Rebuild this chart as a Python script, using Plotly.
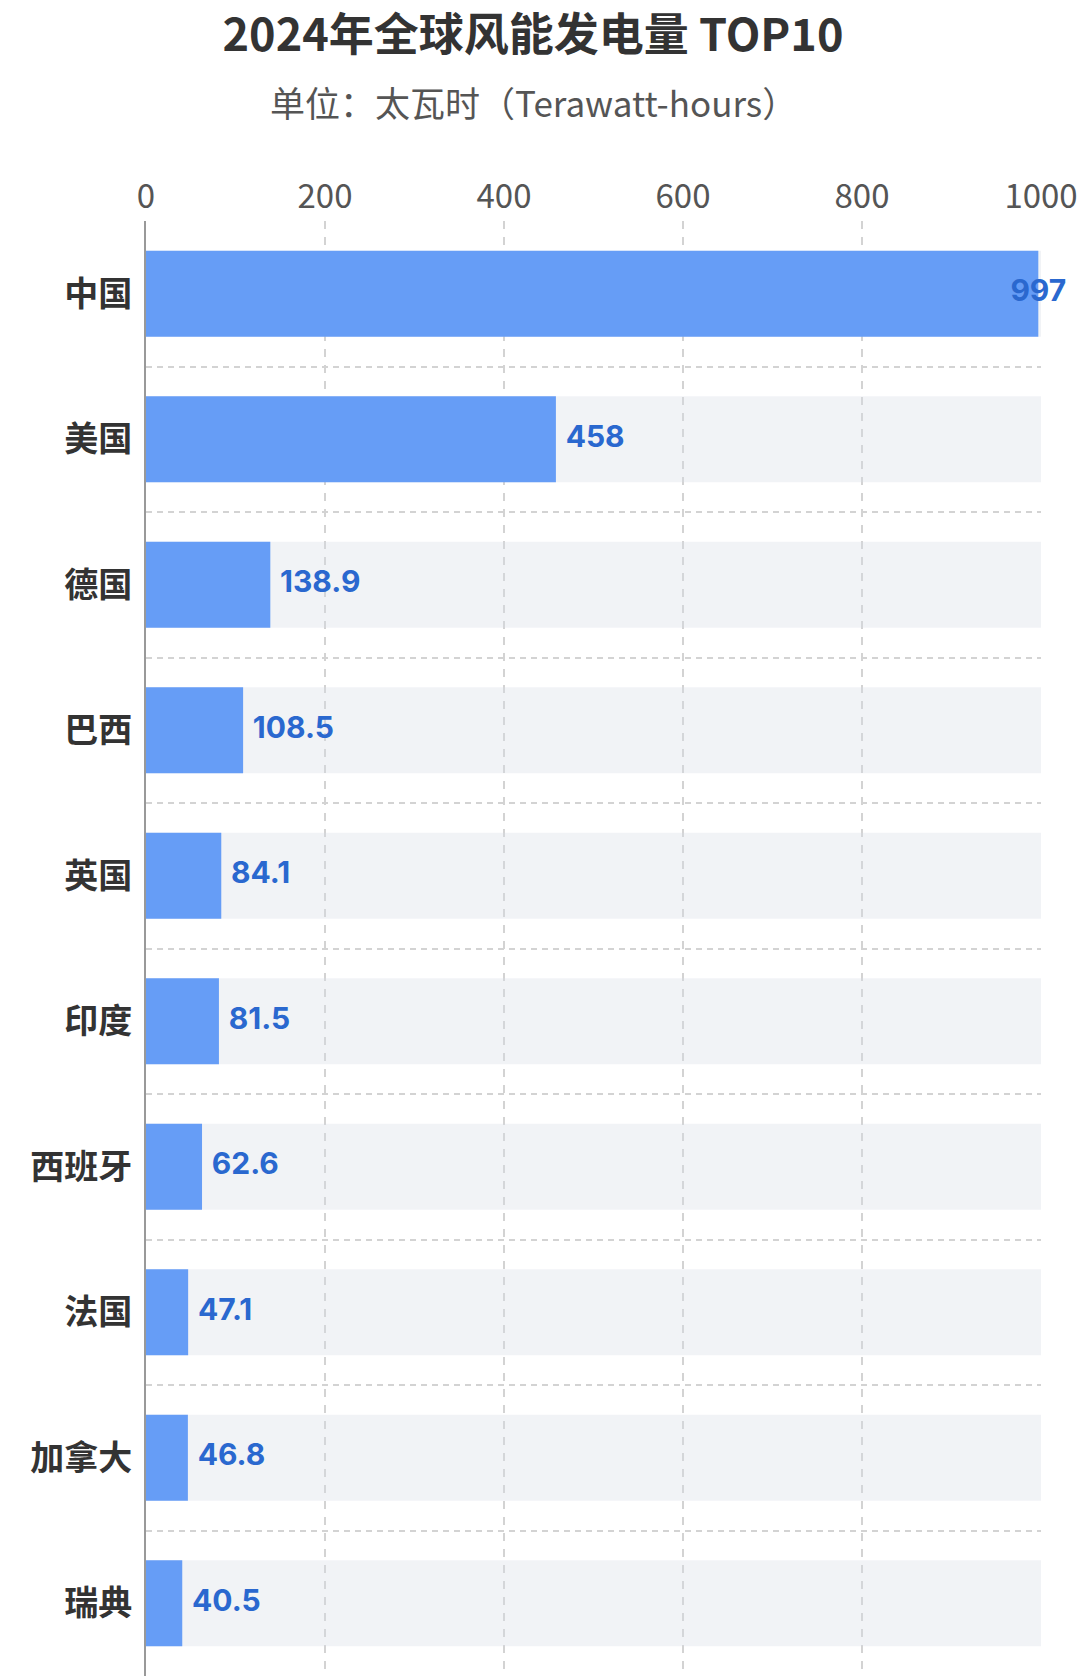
import plotly.graph_objects as go

# 2024 wind power generation, TWh
countries = ["中国", "美国", "德国", "巴西", "英国", "印度", "西班牙", "法国", "加拿大", "瑞典"]
values = [997, 458, 138.9, 108.5, 84.1, 81.5, 62.6, 47.1, 46.8, 40.5]
x_ticks = [0, 200, 400, 600, 800, 1000]
AXIS_MAX = 1000

BAR_COLOR = "#669DF6"
LABEL_COLOR = "#2A68CF"
CJK = "Noto Sans CJK SC"

W, H = 1080, 1676
L, R, T, B = 146, 39, 221, 0

fig = go.Figure()

# light track behind every bar
fig.add_trace(go.Bar(
    x=[AXIS_MAX] * len(countries), y=countries, orientation="h",
    marker=dict(color="rgba(215,220,230,0.35)", line=dict(width=0)),
    width=0.59, hoverinfo="skip", showlegend=False))

fig.add_trace(go.Bar(
    x=values, y=countries, orientation="h",
    marker=dict(color=BAR_COLOR, line=dict(width=0)),
    width=0.59, showlegend=False))

# value labels, the longest one sits on the bar end
positions = ["middle center" if v > 0.95 * AXIS_MAX else "middle right" for v in values]
fig.add_trace(go.Scatter(
    x=values, y=countries, mode="markers+text",
    text=[f"{v:g}" for v in values], textposition=positions,
    textfont=dict(family="Inter", size=30, color=LABEL_COLOR, weight="bold"),
    marker=dict(size=14, opacity=0), cliponaxis=False,
    hoverinfo="skip", showlegend=False))

pw, ph = W - L - R, H - T - B
fig.update_layout(
    width=W, height=H,
    margin=dict(l=L, r=R, t=T, b=B),
    paper_bgcolor="white", plot_bgcolor="white",
    barmode="overlay",
    title=dict(
        text="<b>2024年全球风能发电量 TOP10</b>",
        x=533 / W, xanchor="center", y=1 - 35 / H, yanchor="middle",
        font=dict(family=CJK, size=45, color="#333")),
    annotations=[dict(
        text="单位：太瓦时（Terawatt-hours）", xref="paper", yref="paper",
        x=(533 - L) / pw, y=1 + (T - 101) / ph,
        xanchor="center", yanchor="middle", showarrow=False,
        font=dict(family=CJK, size=35, color="#555"))],
)

fig.update_xaxes(
    side="top", range=[0, AXIS_MAX], tickvals=x_ticks,
    tickfont=dict(family=CJK, size=33, color="#555"),
    ticklabeloverflow="allow", ticklabelstandoff=5,
    showgrid=True, gridcolor="#D3D3D3", gridwidth=1.5, griddash="8px,8px",
    zeroline=False, showline=False, ticks="", fixedrange=True)

fig.update_yaxes(
    range=[len(countries) - 0.5, -0.5], tickson="boundaries",
    tickfont=dict(family=CJK, size=34, color="#333", weight="bold"),
    ticklabelstandoff=5,
    showgrid=True, gridcolor="#D3D3D3", gridwidth=1.5, griddash="6px,5px",
    showline=True, linecolor="#999", linewidth=2,
    ticks="", fixedrange=True)

# drop the default page margin so the figure fills the window exactly
fig.write_html(
    "out.html",
    config={"displayModeBar": False},
    post_script="document.body.style.margin='0';document.body.style.overflow='hidden';")
